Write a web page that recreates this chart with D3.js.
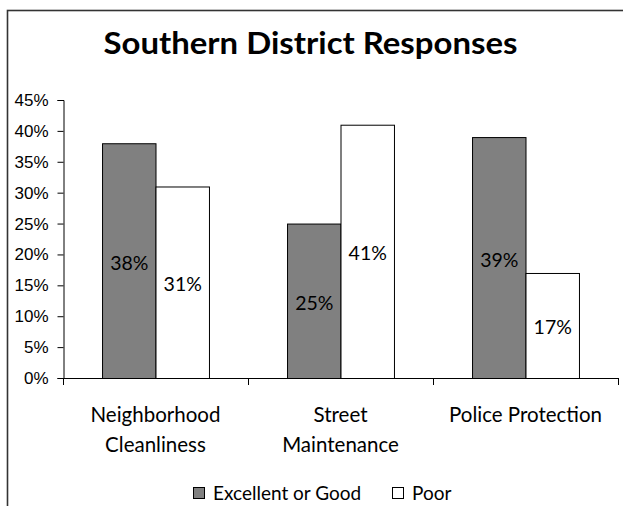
<!DOCTYPE html>
<html>
<head>
<meta charset="utf-8">
<script src="https://cdn.jsdelivr.net/npm/d3@7/dist/d3.min.js"></script>
<style>
  html, body { margin: 0; padding: 0; background: #fff; }
  svg { display: block; }
</style>
</head>
<body>
<svg id="chart" width="623" height="506"></svg>
<script>
const title = "Southern District Responses";
const categories = [["Neighborhood", "Cleanliness"], ["Street", "Maintenance"], ["Police Protection"]];
const categoryKeys = ["Neighborhood Cleanliness", "Street Maintenance", "Police Protection"];
const seriesNames = ["Excellent or Good", "Poor"];
const excellentOrGood = [0.38, 0.25, 0.39];
const poor = [0.31, 0.41, 0.17];
const yTicks = [0, 0.05, 0.10, 0.15, 0.20, 0.25, 0.30, 0.35, 0.40, 0.45];
const seriesColors = ["#808080", "#ffffff"];

const svg = d3.select("#chart");
const catFont = "Lato, 'Open Sans', sans-serif";

// frame
svg.append("rect")
  .attr("x", 7.5).attr("y", 10.5)
  .attr("width", 700).attr("height", 600)
  .attr("fill", "none").attr("stroke", "#333").attr("stroke-width", 1.6);

// title
svg.append("text")
  .attr("x", 310.5).attr("y", 54)
  .attr("text-anchor", "middle")
  .attr("font-family", catFont)
  .attr("font-weight", "bold")
  .attr("font-size", 30)
  .attr("textLength", 414)
  .attr("lengthAdjust", "spacingAndGlyphs")
  .attr("fill", "#000")
  .text(title);

const x = d3.scaleBand().domain(categoryKeys).range([63, 618]).paddingInner(0).paddingOuter(0);
const xs = d3.scaleBand().domain(seriesNames).range([0, x.bandwidth()]).paddingInner(0).paddingOuter(0.73);
const y = d3.scaleLinear().domain([0, 0.45]).range([378, 100]);

// y axis
const yAxis = d3.axisLeft(y).tickValues(yTicks).tickFormat(d3.format(".0%")).tickSize(6).tickPadding(9);
const gy = svg.append("g").attr("transform", "translate(63.5,0)").call(yAxis);
gy.select(".domain").attr("stroke", "#000");
gy.selectAll(".tick line").attr("stroke", "#000");
gy.selectAll(".tick text")
  .attr("font-family", "'Liberation Sans', Arial, sans-serif")
  .attr("font-size", 17)
  .attr("fill", "#000");

// bars
const data = categoryKeys.map((c, i) => ({ cat: c, values: [excellentOrGood[i], poor[i]] }));
const groups = svg.append("g").selectAll("g").data(data).join("g")
  .attr("transform", d => `translate(${x(d.cat)},0)`);

groups.selectAll("rect").data(d => d.values.map((v, j) => ({ s: seriesNames[j], v, j })))
  .join("rect")
  .attr("x", d => xs(d.s) + 0.5)
  .attr("y", d => y(d.v) + 0.5)
  .attr("width", xs.bandwidth())
  .attr("height", d => y(0) - y(d.v))
  .attr("fill", d => seriesColors[d.j])
  .attr("stroke", "#000")
  .attr("stroke-width", 1);

groups.selectAll("text.val").data(d => d.values.map((v, j) => ({ s: seriesNames[j], v, j })))
  .join("text")
  .attr("class", "val")
  .attr("x", d => xs(d.s) + xs.bandwidth() / 2 + 0.5)
  .attr("y", d => (y(d.v) + y(0)) / 2 + 9)
  .attr("text-anchor", "middle")
  .attr("font-family", catFont)
  .attr("font-size", 19.5)
  .attr("fill", "#000")
  .text(d => d3.format(".0%")(d.v));

// x axis
const gx = svg.append("g");
gx.append("line")
  .attr("x1", 63).attr("x2", 618.5)
  .attr("y1", y(0) + 0.5).attr("y2", y(0) + 0.5)
  .attr("stroke", "#000");
const boundaries = categoryKeys.map(c => x(c)).concat([x(categoryKeys[categoryKeys.length - 1]) + x.step()]);
gx.selectAll("line.tk").data(boundaries).join("line")
  .attr("class", "tk")
  .attr("x1", d => Math.round(d) + 0.5).attr("x2", d => Math.round(d) + 0.5)
  .attr("y1", y(0)).attr("y2", y(0) + 7)
  .attr("stroke", "#000");

// category labels
const catG = svg.append("g").selectAll("text").data(categoryKeys).join("text")
  .attr("x", d => x(d) + x.bandwidth() / 2)
  .attr("y", 422)
  .attr("text-anchor", "middle")
  .attr("font-family", catFont)
  .attr("font-size", 20.5)
  .attr("fill", "#000");
catG.each(function(d, i) {
  const t = d3.select(this);
  categories[i].forEach((line, k) => {
    t.append("tspan")
      .attr("x", x(d) + x.bandwidth() / 2)
      .attr("dy", k === 0 ? 0 : 29.5)
      .text(line);
  });
});

// legend
const legendX = [193, 392];
const leg = svg.append("g").selectAll("g").data(seriesNames).join("g")
  .attr("transform", (d, i) => `translate(${legendX[i]},487)`);
leg.append("rect")
  .attr("x", 0.5).attr("y", 0.5)
  .attr("width", 11).attr("height", 11)
  .attr("fill", (d, i) => seriesColors[i])
  .attr("stroke", "#000");
leg.append("text")
  .attr("x", 20).attr("y", 13)
  .attr("font-family", catFont)
  .attr("font-size", 19)
  .attr("fill", "#000")
  .text(d => d);
</script>
</body>
</html>
